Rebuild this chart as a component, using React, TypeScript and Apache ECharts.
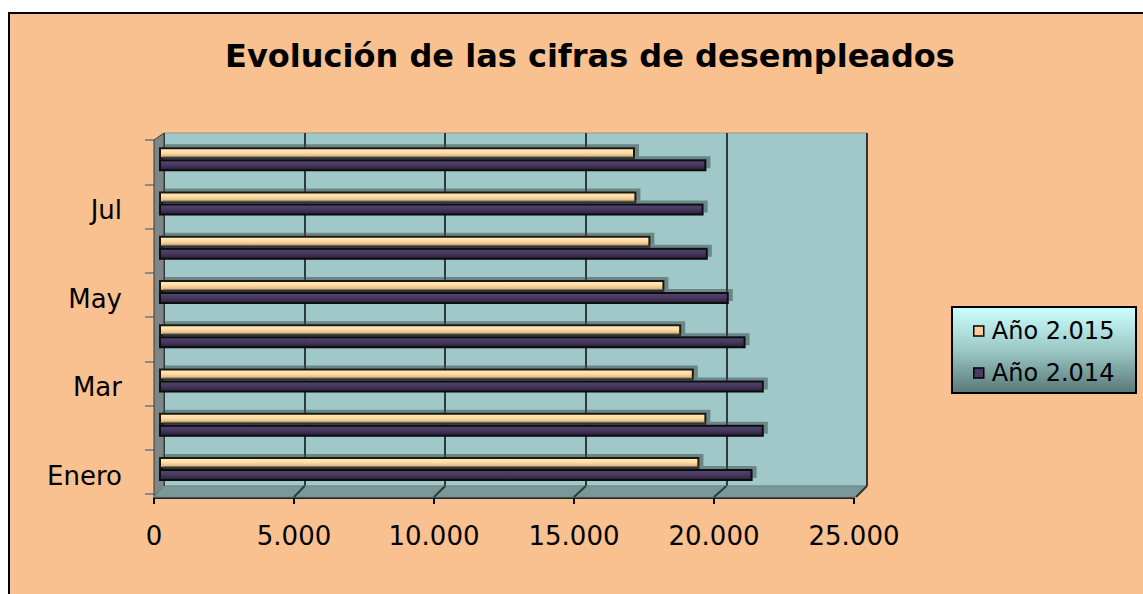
import React, { useEffect, useRef } from "react";
import * as echarts from "echarts";

const categories = ["Enero", "Feb", "Mar", "Abr", "May", "Jun", "Jul", "Ago"];
const serie2015 = [19300, 19550, 19100, 18650, 18050, 17550, 17050, 17000];
const serie2014 = [21200, 21600, 21600, 20950, 20350, 19600, 19450, 19550];
const xTicks = [0, 5000, 10000, 15000, 20000, 25000];
const seriesNames = ["Año 2.015", "Año 2.014"];
const titleText = "Evolución de las cifras de desempleados";

const FONT = "DejaVu Sans";

export default function App() {
  const ref = useRef<HTMLDivElement>(null);
  useEffect(() => {
    if (!ref.current) return;
    const chart = echarts.init(ref.current, null, { renderer: "svg" });
    const xMax = xTicks[xTicks.length - 1];
    const step = xTicks[1] - xTicks[0];
    // 3D frame geometry
    const backL = 164, backR = 867, backT = 133, backB = 486;
    const frontL = 154, frontR = 854, frontB = 497;
    const floorLines = xTicks.slice(1, -1).map((t) => ({
      type: "line",
      z: 3,
      shape: {
        x1: backL + ((backR - backL) * t) / xMax,
        y1: backB,
        x2: frontL + ((frontR - frontL) * t) / xMax,
        y2: frontB,
      },
      style: { stroke: "#2b3b3b", lineWidth: 2 },
    }));
    const peachGrad = new echarts.graphic.LinearGradient(0, 0, 0, 1, [
      { offset: 0, color: "#fff0c0" },
      { offset: 0.45, color: "#ffdca4" },
      { offset: 0.75, color: "#e8bc88" },
      { offset: 1, color: "#b08660" },
    ]);
    const purpleGrad = new echarts.graphic.LinearGradient(0, 0, 0, 1, [
      { offset: 0, color: "#54466e" },
      { offset: 0.5, color: "#46385e" },
      { offset: 1, color: "#2a2038" },
    ]);
    chart.setOption({
      animation: false,
      backgroundColor: "#f9c090",
      textStyle: { fontFamily: FONT },
      title: {
        text: titleText,
        left: 585,
        textAlign: "center",
        top: 35,
        textStyle: { fontFamily: FONT, fontWeight: "bold", fontSize: 32, color: "#000" },
      },
      legend: {
        z: 20,
        orient: "vertical",
        left: 968,
        top: 314,
        itemWidth: 10,
        itemHeight: 10,
        itemGap: 18,
        icon: "rect",
        textStyle: { fontFamily: FONT, fontSize: 24, color: "#000", padding: [0, 0, 0, 3] },
        data: [
          { name: seriesNames[0], itemStyle: { color: "#ffcc99", borderColor: "#000", borderWidth: 1.5 } },
          { name: seriesNames[1], itemStyle: { color: "#4a3a64", borderColor: "#000", borderWidth: 1.5 } },
        ],
      },
      grid: [
        { left: backL, top: backT, width: backR - backL, height: backB - backT, show: true, backgroundColor: "#a0c8c8", borderColor: "#8a9a9a", borderWidth: 1 },
        { left: 159, top: 137, width: 700, height: 354 },
        { left: frontL, top: 144, width: 700, height: 354 },
        { left: frontL, top: 140, width: 700, height: 354 },
      ],
      xAxis: [
        {
          gridIndex: 0, type: "value", min: 0, max: xMax, interval: step,
          axisLabel: { show: false }, axisLine: { show: false }, axisTick: { show: false },
          splitLine: { show: true, lineStyle: { color: "#2b3b3b", width: 2 } },
        },
        { gridIndex: 1, type: "value", min: 0, max: xMax, interval: step, show: false },
        {
          gridIndex: 2, type: "value", min: 0, max: xMax, interval: step,
          splitLine: { show: false },
          axisLine: { show: true, lineStyle: { color: "#222", width: 2 } },
          axisTick: { show: true, length: 6, lineStyle: { color: "#000", width: 2 } },
          axisLabel: {
            margin: 25, fontFamily: FONT, fontSize: 26, color: "#000",
            formatter: (v: number) => (v === 0 ? "0" : v.toLocaleString("de-DE")),
          },
        },
        { gridIndex: 3, type: "value", min: 0, max: xMax, show: false },
      ],
      yAxis: [
        { gridIndex: 0, type: "value", show: false },
        { gridIndex: 1, type: "category", data: categories, show: false },
        {
          gridIndex: 2, type: "category", data: categories,
          axisLine: { show: false }, axisTick: { show: false },
          axisLabel: { interval: 1, margin: 32, fontFamily: FONT, fontSize: 26, color: "#000" },
        },
        {
          gridIndex: 3, type: "category", data: categories,
          axisLine: { show: false },
          axisTick: { show: true, length: 9, alignWithLabel: false, lineStyle: { color: "#8a8a8a", width: 2 } },
          axisLabel: { show: false },
        },
      ],
      graphic: [
        { type: "rect", z: 100, shape: { x: 0, y: 0, width: 1143, height: 12 }, style: { fill: "#fff" } },
        { type: "rect", z: 100, shape: { x: 0, y: 0, width: 8, height: 594 }, style: { fill: "#fff" } },
        { type: "line", z: 101, shape: { x1: 8, y1: 13, x2: 1143, y2: 13 }, style: { stroke: "#000", lineWidth: 2 } },
        { type: "line", z: 101, shape: { x1: 9, y1: 12, x2: 9, y2: 594 }, style: { stroke: "#000", lineWidth: 2 } },
        {
          type: "polygon", z: 1,
          shape: { points: [[frontL, 140], [backL, backT], [backL, backB], [frontL, frontB]] },
          style: { fill: "#7e8686", stroke: "#3a3a3a", lineWidth: 1 },
        },
        {
          type: "polygon", z: 1,
          shape: { points: [[frontL, frontB], [backL, backB], [backR, backB], [frontR + 2, frontB]] },
          style: { fill: "#7a9898", stroke: "#6a8888", lineWidth: 1 },
        },
        { type: "line", z: 3, shape: { x1: backR, y1: backT, x2: backR, y2: backB }, style: { stroke: "#333", lineWidth: 2 } },
        { type: "line", z: 3, shape: { x1: backR, y1: backB, x2: frontR + 2, y2: frontB }, style: { stroke: "#333", lineWidth: 2 } },
        ...floorLines,
        {
          type: "rect", z: 10,
          shape: { x: 952, y: 307, width: 184, height: 86 },
          style: {
            fill: new echarts.graphic.LinearGradient(0, 0, 0, 1, [
              { offset: 0, color: "#ccffff" },
              { offset: 0.5, color: "#9cc8c6" },
              { offset: 1, color: "#587876" },
            ]),
            stroke: "#000",
            lineWidth: 2,
          },
        },
      ],
      series: [
        {
          name: seriesNames[0], type: "bar", xAxisIndex: 1, yAxisIndex: 1,
          data: serie2015, barWidth: 12, barGap: "0%", z: 5,
          itemStyle: {
            color: peachGrad, borderColor: "#1a1410", borderWidth: 2,
            shadowColor: "rgba(60,80,80,0.55)", shadowOffsetX: 4, shadowOffsetY: -3, shadowBlur: 0,
          },
        },
        {
          name: seriesNames[1], type: "bar", xAxisIndex: 1, yAxisIndex: 1,
          data: serie2014, barWidth: 12, barGap: "0%", z: 5,
          itemStyle: {
            color: purpleGrad, borderColor: "#0a0810", borderWidth: 2,
            shadowColor: "rgba(60,80,80,0.55)", shadowOffsetX: 4, shadowOffsetY: -3, shadowBlur: 0,
          },
        },
      ],
    });
    return () => chart.dispose();
  }, []);
  return (
    <div
      ref={ref}
      style={{ position: "absolute", left: 0, top: 0, width: 1143, height: 594 }}
    />
  );
}
